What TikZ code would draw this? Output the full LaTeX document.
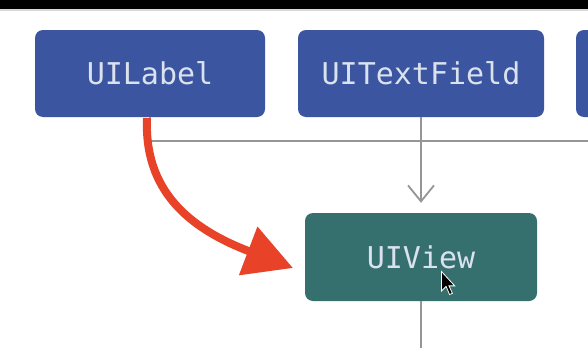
\documentclass[tikz,border=0pt]{standalone}
\usepackage{fontspec}
\setmonofont{DejaVu Sans Mono}
\usetikzlibrary{arrows.meta}
\definecolor{boxBlue}{RGB}{59, 85, 160}
\definecolor{boxTeal}{RGB}{53, 112, 111}
\definecolor{boxText}{RGB}{218, 226, 238}
\definecolor{linkGray}{RGB}{150, 150, 150}
\definecolor{markRed}{RGB}{232, 66, 40}
\begin{document}
\begin{tikzpicture}[x=1pt, y=-1pt,
    cls/.style={fill=boxBlue, rounded corners=8pt, minimum height=87pt, inner sep=0pt,
      text=boxText, font=\ttfamily\fontsize{30}{32}\selectfont},
    link/.style={draw=linkGray, line width=1.8pt}]
  \clip (0,0) rectangle (588,348);
  \useasboundingbox (0,0) rectangle (588,348);
  \fill[white] (0,0) rectangle (588,348);
  \fill[black] (0,0) rectangle (588,9);
  \fill[black!15] (0,9) rectangle (588,11);
  % top row of classes
  \node[cls, minimum width=230pt] (label) at (150,73.5) {UILabel};
  \node[cls, minimum width=246pt] (field) at (421,73.5) {UITextField};
  \node[cls, minimum width=246pt] (next) at (699,73.5) {};
  \node[cls, fill=boxTeal, minimum width=232pt, minimum height=88pt] (view) at (421,257) {UIView};
  \coordinate (busEnd) at (588,141);
  \coordinate (below) at (421,348);
  % hierarchy lines
  \draw[link] (label.south) |- (busEnd);
  \draw[link, -{Straight Barb[length=16pt, width=26pt, line width=1.8pt]}, shorten >=10pt] (field.south) -- (view.north);
  \draw[link] (view.south) -- (below);
  % red annotation arrow
  \draw[markRed, line width=8pt, -{Triangle[length=48pt, width=50pt]}]
    (147,118) .. controls (144,190) and (188,228) .. (293,268);
  % mouse pointer
  \filldraw[fill=black, draw=white, line width=0.8pt, shift={(441.5,271.5)}, scale=1.15]
    (0,0) -- (0,17) -- (4,13) -- (7,20) -- (9.5,19) -- (6.5,12.5) -- (11.5,12.5) -- cycle;
\end{tikzpicture}
\end{document}
